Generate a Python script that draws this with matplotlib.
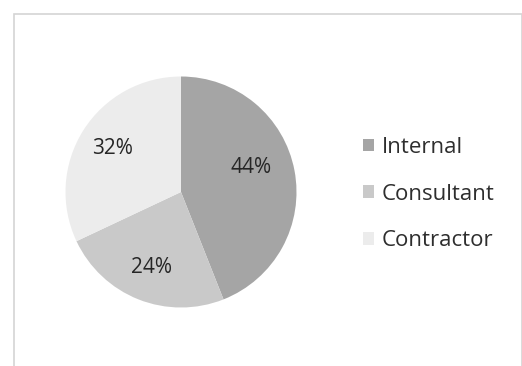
import matplotlib.pyplot as plt
from matplotlib.patches import Rectangle, Patch

plt.rcParams['font.family'] = ['Open Sans', 'DejaVu Sans']

labels = ['Internal', 'Consultant', 'Contractor']
shares = [44, 24, 32]
colors = ['#a5a5a5', '#c9c9c9', '#ececec']

W, H = 522, 366
fig = plt.figure(figsize=(W / 100, H / 100), dpi=100)

# chart area border
fig.patches.append(Rectangle((14 / W, -0.01), 508 / W, (H - 14) / H + 0.01,
                             transform=fig.transFigure, fill=False,
                             edgecolor='#d4d4d4', linewidth=1.2))

cx, cy, r = 181, 192, 115.5
ax = fig.add_axes([(cx - r) / W, (H - cy - r) / H, 2 * r / W, 2 * r / H])
wedges, texts, autotexts = ax.pie(shares, colors=colors, startangle=90,
                                  counterclock=False, radius=1,
                                  autopct='%d%%', pctdistance=0.7,
                                  wedgeprops=dict(linewidth=0),
                                  textprops=dict(fontsize=15, color='#262626'))
# nudge the Internal label up/left a little, as Excel places it
x, y = autotexts[0].get_position()
autotexts[0].set_position((x - 0.08, y + 0.08))
ax.set_xlim(-1, 1)
ax.set_ylim(-1, 1)
ax.set_aspect('equal')

handles = [Patch(facecolor=c, edgecolor='none') for c in colors]
fig.legend(handles, labels, loc='center left',
           bbox_to_anchor=(343 / W, 1 - 194 / H), frameon=False,
           fontsize=16, handlelength=0.5, handleheight=0.5,
           handletextpad=0.35, labelspacing=1.15,
           labelcolor='#2e2e2e')

fig.savefig('out.png', dpi=100)
